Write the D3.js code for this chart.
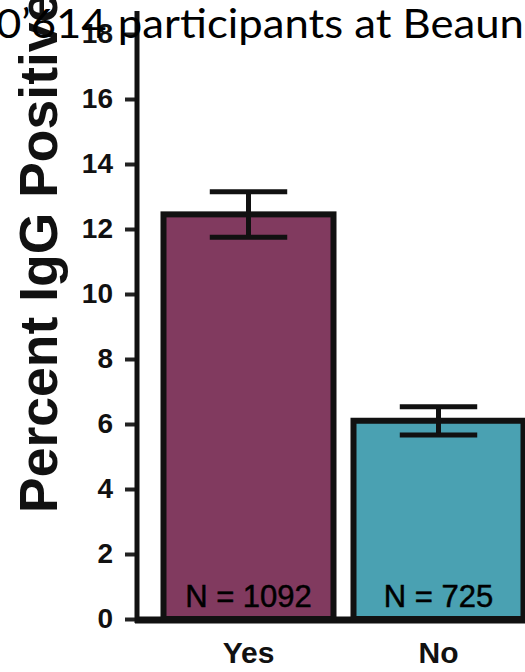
<!DOCTYPE html>
<html>
<head>
<meta charset="utf-8">
<script src="https://cdn.jsdelivr.net/npm/d3@7"></script>
<style>
  html, body { margin: 0; padding: 0; background: #fff; overflow: hidden; }
  svg { display: block; }
</style>
</head>
<body>
<script>
// ---- data ----
const categories = ["Yes", "No"];
const values = [12.45, 6.1];
const errLow = [11.75, 5.66];
const errHigh = [13.15, 6.53];
const nLabels = ["N = 1092", "N = 725"];
const yTicks = [0, 2, 4, 6, 8, 10, 12, 14, 16, 18];
const barColors = ["#813a5f", "#4aa1b2"];
const yLabel = "Percent IgG Positive";
const titleText = "0\u2019614 participants at Beaun";

const W = 525, H = 672;
const svg = d3.select("body").append("svg").attr("width", W).attr("height", H);

const y = d3.scaleLinear().domain([0, 18]).range([619, 34]);
const axisX = 137;
const step = 190, pi = 14 / 190, po = 23.5 / 190;
const x = d3.scaleBand().domain(categories)
  .range([axisX, axisX + step * (categories.length - pi + 2 * po)])
  .paddingInner(pi).paddingOuter(po);
const bw = x.bandwidth();

// x baseline
svg.append("line")
  .attr("x1", axisX - 2).attr("x2", W + 10)
  .attr("y1", y(0) + 1).attr("y2", y(0) + 1)
  .attr("stroke", "#111").attr("stroke-width", 7);

// bars
svg.selectAll("rect.bar").data(categories).join("rect")
  .attr("class", "bar")
  .attr("x", (d) => x(d) + 3)
  .attr("width", bw - 6)
  .attr("y", (d, i) => y(values[i]))
  .attr("height", (d, i) => y(0) - y(values[i]))
  .attr("fill", (d, i) => barColors[i])
  .attr("stroke", "#111").attr("stroke-width", 6);

// error bars
const capHalf = bw * 0.22;
const eb = svg.selectAll("g.eb").data(categories).join("g").attr("class", "eb")
  .attr("stroke", "#111").attr("stroke-width", 5);
eb.append("line")
  .attr("x1", (d) => x(d) + bw / 2).attr("x2", (d) => x(d) + bw / 2)
  .attr("y1", (d, i) => y(errLow[i])).attr("y2", (d, i) => y(errHigh[i]));
eb.append("line")
  .attr("x1", (d) => x(d) + bw / 2 - capHalf).attr("x2", (d) => x(d) + bw / 2 + capHalf)
  .attr("y1", (d, i) => y(errHigh[i])).attr("y2", (d, i) => y(errHigh[i]));
eb.append("line")
  .attr("x1", (d) => x(d) + bw / 2 - capHalf).attr("x2", (d) => x(d) + bw / 2 + capHalf)
  .attr("y1", (d, i) => y(errLow[i])).attr("y2", (d, i) => y(errLow[i]));

// N labels
svg.selectAll("text.n").data(categories).join("text")
  .attr("class", "n")
  .attr("x", (d) => x(d) + bw / 2)
  .attr("y", 607)
  .attr("text-anchor", "middle")
  .attr("font-family", "Liberation Sans, Arial, sans-serif")
  .attr("font-size", 31)
  .attr("fill", "#000")
  .attr("stroke", "#000").attr("stroke-width", 0.5)
  .text((d, i) => nLabels[i]);

// y axis
const yAxis = d3.axisLeft(y).tickValues(yTicks).tickSize(12).tickPadding(12).tickSizeOuter(0);
const gy = svg.append("g").attr("transform", `translate(${axisX},0)`).call(yAxis);
gy.select(".domain").remove();
gy.selectAll(".tick line").attr("stroke", "#222").attr("stroke-width", 4);
gy.selectAll(".tick text")
  .attr("font-family", "Liberation Sans, Arial, sans-serif")
  .attr("font-weight", "bold")
  .attr("font-size", 28)
  .attr("fill", "#111");
svg.append("line")
  .attr("x1", axisX).attr("x2", axisX)
  .attr("y1", y(18) - 23).attr("y2", y(0) + 4)
  .attr("stroke", "#111").attr("stroke-width", 5);

// x axis labels
const xAxis = d3.axisBottom(x).tickSize(0).tickPadding(0);
const gx = svg.append("g").attr("transform", `translate(0,${y(0)})`).call(xAxis);
gx.select(".domain").remove();
gx.selectAll(".tick text")
  .attr("y", 44).attr("dy", 0)
  .attr("font-family", "Liberation Sans, Arial, sans-serif")
  .attr("font-weight", "bold")
  .attr("font-size", 30)
  .attr("fill", "#111");

// y label
svg.append("text")
  .attr("transform", `translate(57,513) rotate(-90)`)
  .attr("text-anchor", "start")
  .attr("font-family", "Liberation Sans, Arial, sans-serif")
  .attr("font-weight", "bold")
  .attr("font-size", 53.5)
  .attr("fill", "#111")
  .text(yLabel);

// overlapping title text (cropped)
svg.append("text")
  .attr("x", -4).attr("y", 38)
  .attr("font-family", "Lato, 'Open Sans', sans-serif")
  .attr("font-size", 40)
  .attr("fill", "#000")
  .attr("textLength", 528)
  .attr("lengthAdjust", "spacingAndGlyphs")
  .text(titleText);
</script>
</body>
</html>
